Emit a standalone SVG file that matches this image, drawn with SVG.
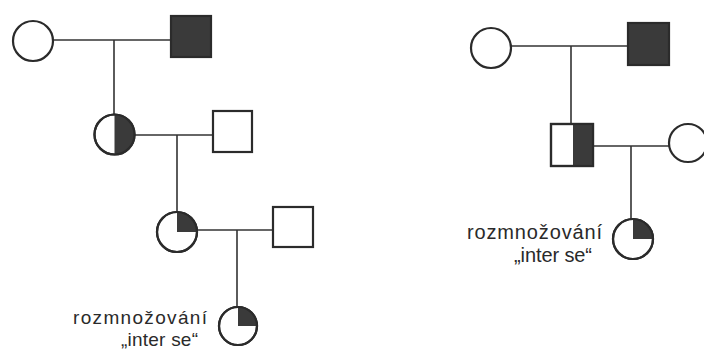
<svg xmlns="http://www.w3.org/2000/svg" width="704" height="350" viewBox="0 0 704 350">
<style>
.sh{fill:#fff;stroke:#2b2b2b;stroke-width:2.2}
.fl{fill:#3a3a3a;stroke:#2b2b2b;stroke-width:2.2}
.part{fill:#3a3a3a;stroke:none}
.cn{stroke:#333;stroke-width:1.6;fill:none}
.lb{font-family:"Liberation Sans",Arial,sans-serif;font-size:20px;fill:#2a2a2a}
.lbs{font-family:"Liberation Sans",Arial,sans-serif;font-size:19px;fill:#2a2a2a}
</style>
<rect width="704" height="350" fill="#fff"/>
<g id="connectors">
<line class="cn" x1="53" y1="40" x2="171" y2="40"/>
<line class="cn" x1="114" y1="40" x2="114" y2="114.5"/>
<line class="cn" x1="134.5" y1="135" x2="213" y2="135"/>
<line class="cn" x1="177" y1="135" x2="177" y2="212"/>
<line class="cn" x1="197" y1="230" x2="273" y2="230"/>
<line class="cn" x1="237" y1="230" x2="237" y2="307"/>
<line class="cn" x1="511" y1="46" x2="628" y2="46"/>
<line class="cn" x1="571" y1="46" x2="571" y2="124"/>
<line class="cn" x1="593" y1="146" x2="669" y2="146"/>
<line class="cn" x1="631" y1="146" x2="631" y2="219"/>
</g>
<g id="L1"><circle class="sh" cx="33" cy="41" r="20"/></g>
<g id="L2"><rect class="fl" x="171" y="16" width="40" height="41"/></g>
<g id="L3"><circle class="sh" cx="114.5" cy="134.5" r="20"/><path class="part" d="M114.5,114.5 A20,20 0 0 1 114.5,154.5 Z"/><circle cx="114.5" cy="134.5" r="20" fill="none" stroke="#2b2b2b" stroke-width="2.2"/></g>
<g id="L4"><rect class="sh" x="213" y="111" width="39" height="41"/></g>
<g id="L5"><circle class="sh" cx="177" cy="232" r="20"/><path class="part" d="M177,232 V212 A20,20 0 0 1 197,232 Z"/><circle cx="177" cy="232" r="20" fill="none" stroke="#2b2b2b" stroke-width="2.2"/></g>
<g id="L6"><rect class="sh" x="273" y="207" width="40" height="40"/></g>
<g id="L7"><circle class="sh" cx="238" cy="326" r="19"/><path class="part" d="M238,326 V307 A19,19 0 0 1 257,326 Z"/><circle cx="238" cy="326" r="19" fill="none" stroke="#2b2b2b" stroke-width="2.2"/></g>
<g id="L-label">
<text class="lbs" x="73" y="324" textLength="134" lengthAdjust="spacing">rozmnožování</text>
<text class="lbs" x="121" y="346" textLength="77" lengthAdjust="spacing">„inter se“</text>
</g>
<g id="R1"><circle class="sh" cx="491" cy="48" r="20"/></g>
<g id="R2"><rect class="fl" x="628" y="23" width="41" height="42"/></g>
<g id="R3"><rect class="sh" x="551" y="124" width="42" height="42"/><rect class="part" x="573" y="124" width="20" height="42"/><rect x="551" y="124" width="42" height="42" fill="none" stroke="#2b2b2b" stroke-width="2.2"/></g>
<g id="R4"><circle class="sh" cx="688" cy="143" r="19"/></g>
<g id="R5"><circle class="sh" cx="633" cy="239" r="20"/><path class="part" d="M633,239 V219 A20,20 0 0 1 653,239 Z"/><circle cx="633" cy="239" r="20" fill="none" stroke="#2b2b2b" stroke-width="2.2"/></g>
<g id="R-label">
<text class="lb" x="467" y="239" textLength="135" lengthAdjust="spacing">rozmnožování</text>
<text class="lb" x="514" y="262" textLength="78" lengthAdjust="spacing">„inter se“</text>
</g>
</svg>
